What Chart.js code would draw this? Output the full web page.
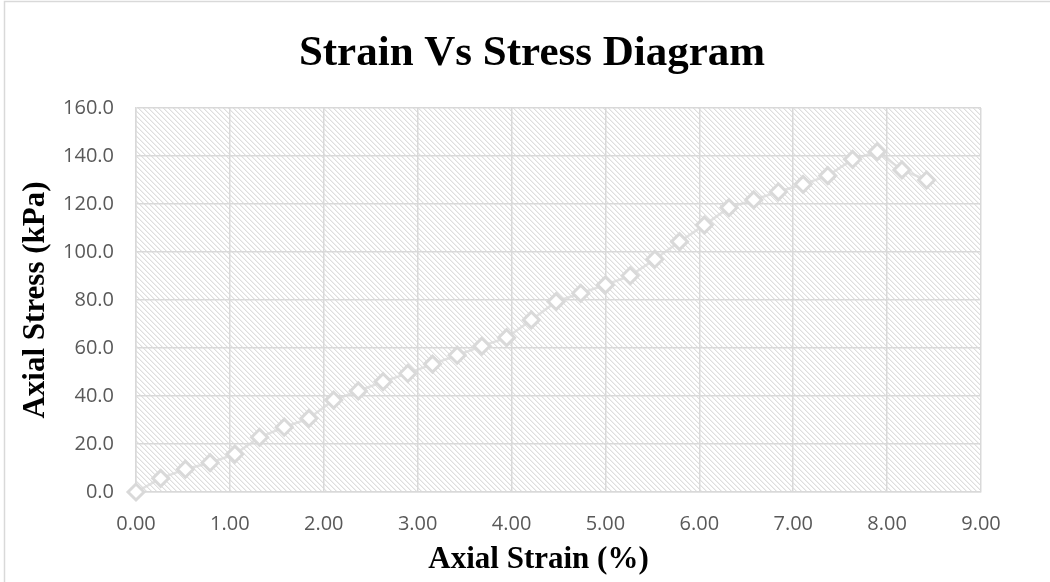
<!DOCTYPE html>
<html>
<head>
<meta charset="utf-8">
<script src="https://cdn.jsdelivr.net/npm/chart.js@4/dist/chart.umd.min.js"></script>
<style>
  html, body { margin: 0; padding: 0; background: #ffffff; }
  #wrap { position: relative; width: 1050px; height: 582px; }
</style>
</head>
<body>
<div id="wrap"><canvas id="chart" width="1050" height="582"></canvas></div>
<script>
// Axial strain (%) of each reading
const strainPct = [
  0.000, 0.263, 0.526, 0.789, 1.053, 1.316, 1.579, 1.842, 2.105, 2.368,
  2.632, 2.895, 3.158, 3.421, 3.684, 3.947, 4.211, 4.474, 4.737, 5.000,
  5.263, 5.526, 5.789, 6.053, 6.316, 6.579, 6.842, 7.105, 7.368, 7.632,
  7.895, 8.158, 8.421
];
// Axial stress (kPa) of each reading
const stressKPa = [
  0.0, 5.7, 9.5, 12.2, 15.8, 22.8, 27.0, 30.7, 38.3, 42.1,
  46.0, 49.4, 53.3, 57.0, 60.8, 64.3, 71.7, 79.3, 82.8, 86.3,
  90.1, 97.0, 104.3, 111.2, 118.5, 121.7, 125.1, 128.2, 131.8, 138.6,
  141.8, 134.2, 130.0
];
// Axis ranges and tick steps
const xTicks = { min: 0, max: 9, step: 1 };
const yTicks = { min: 0, max: 160, step: 20 };

const chartTitle = 'Strain Vs Stress Diagram';
const xTitle = 'Axial Strain (%)';
const yTitle = 'Axial Stress (kPa)';

const GRID = '#d9d9d9';
const TICK_FONT = { family: '"Open Sans", "Liberation Sans", sans-serif', size: 20 };
const SERIF = '"Liberation Serif", "Times New Roman", serif';

// Diagonal hatch tile for the plot background
function hatchPattern(ctx) {
  const n = 5;
  const tile = document.createElement('canvas');
  tile.width = n; tile.height = n;
  const t = tile.getContext('2d');
  const img = t.createImageData(n, n);
  for (let y = 0; y < n; y++) {
    for (let x = 0; x < n; x++) {
      const d = ((x - y) % n + n) % n;
      const i = (y * n + x) * 4;
      const v = d === 0 ? 222 : (d === 1 ? 240 : 255);
      img.data[i] = v; img.data[i + 1] = v; img.data[i + 2] = v; img.data[i + 3] = 255;
    }
  }
  t.putImageData(img, 0, 0);
  return ctx.createPattern(tile, 'repeat');
}

const decor = {
  id: 'decor',
  beforeDraw(chart) {
    const { ctx, chartArea: a } = chart;
    ctx.save();
    ctx.fillStyle = '#ffffff';
    ctx.fillRect(0, 0, chart.width, chart.height);
    // outer frame
    ctx.strokeStyle = GRID;
    ctx.lineWidth = 1.5;
    ctx.strokeRect(4.5, 1.5, chart.width + 20, chart.height + 20);
    // hatched plot area
    ctx.fillStyle = hatchPattern(ctx);
    ctx.fillRect(a.left, a.top, a.right - a.left, a.bottom - a.top);
    ctx.restore();
  },
  afterDraw(chart) {
    const { ctx, chartArea: a } = chart;
    ctx.save();
    ctx.fillStyle = '#000000';
    ctx.textAlign = 'center';
    ctx.textBaseline = 'middle';
    ctx.font = 'bold 43px ' + SERIF;
    ctx.fillText(chartTitle, 532, 54);
    ctx.font = 'bold 31px ' + SERIF;
    ctx.fillText(xTitle, (a.left + a.right) / 2 - 20, 560);
    ctx.translate(36, (a.top + a.bottom) / 2);
    ctx.rotate(-Math.PI / 2);
    ctx.fillText(yTitle, 0, 0);
    ctx.restore();
  }
};

new Chart(document.getElementById('chart'), {
  type: 'scatter',
  data: {
    datasets: [{
      label: 'Axial Stress',
      data: strainPct.map((x, i) => ({ x, y: stressKPa[i] })),
      showLine: true,
      clip: false,
      borderColor: 'rgba(217,217,217,0.8)',
      borderWidth: 2.5,
      pointStyle: 'rectRot',
      pointRadius: 8,
      pointHoverRadius: 8,
      pointBorderWidth: 3,
      pointBorderColor: GRID,
      pointBackgroundColor: '#ffffff',
      tension: 0
    }]
  },
  options: {
    responsive: false,
    animation: false,
    events: [],
    layout: { padding: { top: 108, right: 69, bottom: 0, left: 0 } },
    plugins: {
      legend: { display: false },
      title: { display: false },
      tooltip: { enabled: false }
    },
    scales: {
      x: {
        type: 'linear',
        min: xTicks.min,
        max: xTicks.max,
        afterFit(s) { s.height = 90; },
        border: { color: GRID, width: 1.5 },
        grid: { color: GRID, lineWidth: 1.5, drawTicks: false },
        ticks: {
          stepSize: xTicks.step,
          padding: 20,
          color: '#595959',
          font: TICK_FONT,
          callback: v => Number(v).toFixed(2)
        }
      },
      y: {
        type: 'linear',
        min: yTicks.min,
        max: yTicks.max,
        afterFit(s) { s.width = 136; },
        border: { color: GRID, width: 1.5 },
        grid: { color: GRID, lineWidth: 1.5, drawTicks: false },
        ticks: {
          stepSize: yTicks.step,
          padding: 22,
          color: '#595959',
          font: TICK_FONT,
          callback: v => Number(v).toFixed(1)
        }
      }
    }
  },
  plugins: [decor]
});
</script>
</body>
</html>
